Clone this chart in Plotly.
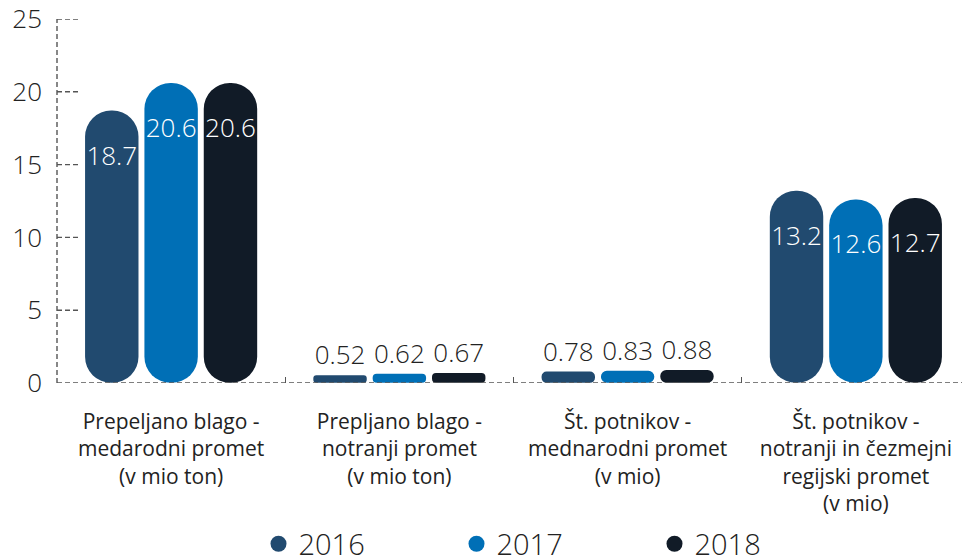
import plotly.graph_objects as go

categories = [
    "Prepeljano blago -<br>medarodni promet<br>(v mio ton)",
    "Prepljano blago -<br>notranji promet<br>(v mio ton)",
    "Št. potnikov -<br>mednarodni promet<br>(v mio)",
    "Št. potnikov -<br>notranji in čezmejni<br>regijski promet<br>(v mio)",
]
years = ["2016", "2017", "2018"]
values_2016 = [18.7, 0.52, 0.78, 13.2]
values_2017 = [20.6, 0.62, 0.83, 12.6]
values_2018 = [20.6, 0.67, 0.88, 12.7]
y_ticks = [0, 5, 10, 15, 20, 25]

series = [values_2016, values_2017, values_2018]
colors = ["#214a6f", "#006fb6", "#111b27"]
FONT = "Open Sans"
# tiny non-zero base: makes plotly round both ends of each bar (pill shape)
BAR_BASE = 0.01

fig = go.Figure()
for yr, vals, col in zip(years, series, colors):
    pos = ["inside" if v > 5 else "outside" for v in vals]
    tcol = ["#ffffff" if v > 5 else "#222222" for v in vals]
    fig.add_trace(go.Bar(
        x=categories, y=vals, base=[BAR_BASE] * len(vals), name=yr,
        marker=dict(color=col, line=dict(width=0)), showlegend=False,
        text=[f"{v:g}" for v in vals], texttemplate="%{text}",
        textposition=pos, insidetextanchor="end", textangle=0,
        textfont=dict(family=FONT, size=26, color=tcol, weight=300),
        cliponaxis=False, hoverinfo="skip",
    ))
    fig.add_trace(go.Scatter(
        x=[None], y=[None], mode="markers", name=yr,
        marker=dict(color=col, size=28, symbol="circle"),
    ))

DASH = "5px,3px"
LINE = dict(color="#555", width=1.4, dash=DASH)
shapes = [
    dict(type="line", xref="paper", yref="paper", x0=0, x1=0, y0=0, y1=1, line=LINE),
    dict(type="line", xref="paper", yref="y", x0=0, x1=1, y0=0, y1=0, line=LINE),
]
for t in y_ticks[1:]:
    shapes.append(dict(type="line", xref="paper", yref="y", x0=0, x1=0.025, y0=t, y1=t,
                       line=LINE))

fig.update_layout(
    width=962, height=551,
    margin=dict(l=49, r=0, t=11, b=176, autoexpand=False),
    paper_bgcolor="white", plot_bgcolor="white",
    barmode="group", bargap=0.22, bargroupgap=0.1, barcornerradius="50%",
    uniformtext=dict(minsize=26, mode="show"),
    font=dict(family=FONT, color="#222"),
    shapes=shapes,
    legend=dict(orientation="h", x=0.546, xanchor="center", y=-0.442, yanchor="middle",
                font=dict(family=FONT, size=29, color="#222", weight=300),
                entrywidth=153, itemsizing="trace"),
    xaxis=dict(showgrid=False, showline=False, zeroline=False, automargin=False,
               ticks="inside", tickson="boundaries", ticklen=6, tickcolor="#555",
               tickfont=dict(family=FONT, size=21, color="#222"), ticklabelstandoff=24),
    yaxis=dict(range=[0, 25], tickvals=y_ticks, showgrid=False, showline=False,
               zeroline=False, ticks="", automargin=False, ticklabeloverflow="allow",
               tickfont=dict(family=FONT, size=26, color="#222", weight=300),
               ticklabelstandoff=14),
)

fig.write_html("out.html")
